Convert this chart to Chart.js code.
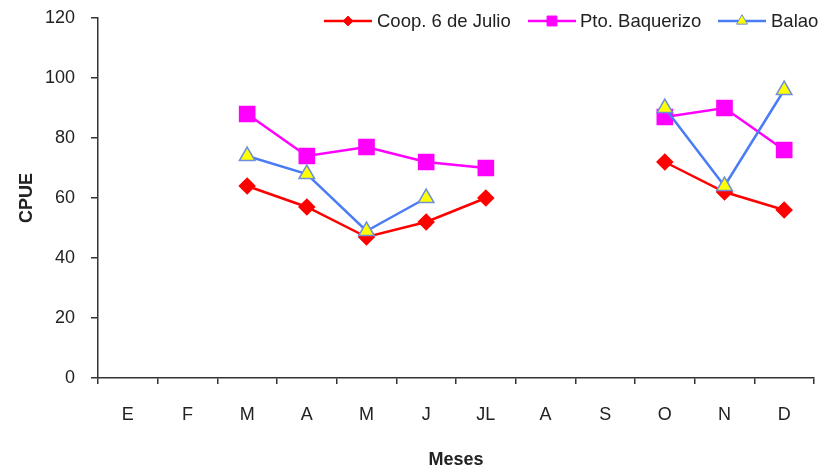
<!DOCTYPE html>
<html>
<head>
<meta charset="utf-8">
<script src="https://cdn.jsdelivr.net/npm/chart.js@4.4.1/dist/chart.umd.min.js"></script>
<style>
  body { margin: 0; background: #fff; }
</style>
</head>
<body>
<canvas id="chart" width="836" height="469"></canvas>
<script>
// months (Spanish initials)
const meses = ["E", "F", "M", "A", "M", "J", "JL", "A", "S", "O", "N", "D"];
// CPUE per site, null = no sampling that month
const coop = [null, null, 64, 57, 47, 52, 60, null, null, 72, 62, 56];
const baquerizo = [null, null, 88, 74, 77, 72, 70, null, null, 87, 90, 76];
const balao = [null, null, 74, 68, 49, 60, null, null, null, 90, 64, 96];

const FONT = "'Liberation Sans', Arial, sans-serif";
Chart.defaults.font.family = FONT;
Chart.defaults.color = "#222";

// legend drawn by hand: line with marker in the middle, like the Excel one
const legendPos = [
  { x: 324, text: 377 },
  { x: 528, text: 580 },
  { x: 718, text: 771 },
];
const lineLegend = {
  id: "lineLegend",
  afterDraw(chart) {
    const c = chart.ctx;
    const y = 21;
    chart.data.datasets.forEach((ds, i) => {
      const p = legendPos[i];
      c.save();
      c.strokeStyle = ds.borderColor;
      c.lineWidth = 2.5;
      c.beginPath();
      c.moveTo(p.x, y);
      c.lineTo(p.x + 48, y);
      c.stroke();
      c.fillStyle = ds.pointBackgroundColor;
      c.strokeStyle = ds.pointBorderColor;
      c.lineWidth = 1;
      Chart.helpers.drawPoint(c, { pointStyle: ds.pointStyle, radius: ds.pointRadius * 0.7, borderWidth: 1 }, p.x + 24, y);
      c.fillStyle = "#222";
      c.font = "18.5px " + FONT;
      c.textBaseline = "middle";
      c.fillText(ds.label, p.text, y + 1);
      c.restore();
    });
  },
};

new Chart(document.getElementById("chart"), {
  type: "line",
  data: {
    labels: meses,
    datasets: [
      {
        label: "Coop. 6 de Julio",
        data: coop,
        borderColor: "#ff0000",
        borderWidth: 2.5,
        pointStyle: "rectRot",
        pointRadius: 7,
        pointBackgroundColor: "#ff0000",
        pointBorderColor: "#ff0000",
        order: 2,
      },
      {
        label: "Pto. Baquerizo",
        data: baquerizo,
        borderColor: "#ff00ff",
        borderWidth: 2.5,
        pointStyle: "rect",
        pointRadius: 10,
        pointBackgroundColor: "#ff00ff",
        pointBorderColor: "#ff00ff",
        order: 1,
      },
      {
        label: "Balao",
        data: balao,
        borderColor: "#4a7cf5",
        borderWidth: 2.5,
        pointStyle: "triangle",
        pointRadius: 9,
        pointBackgroundColor: "#ffff00",
        pointBorderColor: "#6f8fd8",
        pointBorderWidth: 1.5,
        order: 0,
      },
    ],
  },
  options: {
    responsive: false,
    animation: false,
    spanGaps: false,
    layout: { autoPadding: false, padding: { top: 18, right: 22, left: 10, bottom: 0 } },
    plugins: { legend: { display: false }, tooltip: { enabled: false } },
    scales: {
      x: {
        offset: true,
        grid: { offset: true, drawOnChartArea: false, tickLength: 6, color: "#333", lineWidth: 1.5 },
        border: { color: "#333", width: 1.5 },
        ticks: { font: { size: 18 }, padding: 20 },
        title: { display: true, text: "Meses", font: { size: 18, weight: "bold", lineHeight: 1 }, padding: { top: 0, bottom: 0 } },
        afterFit(scale) { scale.height = 91; },
      },
      y: {
        min: 0,
        max: 120,
        ticks: { stepSize: 20, font: { size: 18 }, padding: 16 },
        grid: { drawOnChartArea: false, tickLength: 7, color: "#333", lineWidth: 1.5 },
        border: { color: "#333", width: 1.5 },
        title: { display: true, text: "CPUE", font: { size: 18, weight: "bold", lineHeight: 1 }, padding: { top: 8, bottom: 0 } },
        afterFit(scale) { scale.width = 88; scale.paddingTop = 0; scale.paddingBottom = 0; },
      },
    },
  },
  plugins: [lineLegend],
});
</script>
</body>
</html>
